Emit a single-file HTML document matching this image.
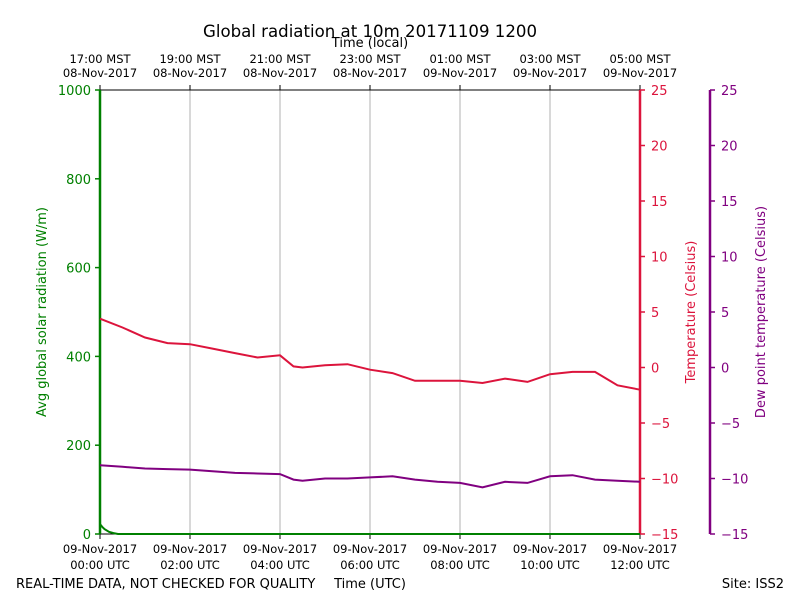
<!DOCTYPE html>
<html><head><meta charset="utf-8"><style>
body{margin:0;background:#fff}svg{display:block;font-family:"DejaVu Sans","Liberation Sans",sans-serif}
</style></head><body>
<svg id="c" width="800" height="600" xmlns="http://www.w3.org/2000/svg">
<text x="370" y="37" font-size="16.6" text-anchor="middle">Global radiation at 10m 20171109 1200</text>
<text x="370" y="47" font-size="13" text-anchor="middle">Time (local)</text>
<text x="16" y="588" font-size="13">REAL-TIME DATA, NOT CHECKED FOR QUALITY</text>
<text x="370" y="588" font-size="13" text-anchor="middle">Time (UTC)</text>
<text x="784" y="588" font-size="13" text-anchor="end">Site: ISS2</text>
<text transform="translate(46,312) rotate(-90)" font-size="13" fill="green" text-anchor="middle">Avg global solar radiation (W/m)</text>
<text transform="translate(695,312) rotate(-90)" font-size="13" fill="crimson" text-anchor="middle">Temperature (Celsius)</text>
<text transform="translate(765,312) rotate(-90)" font-size="13" fill="purple" text-anchor="middle">Dew point temperature (Celsius)</text>
</svg>
<script>
const hours=[0,0.5,1,1.5,2,2.5,3,3.5,4,4.3,4.5,5,5.5,6,6.5,7,7.5,8,8.5,9,9.5,10,10.5,11,11.5,12];
const tempVals=[4.4,3.6,2.7,2.2,2.1,1.7,1.3,0.9,1.1,0.1,0,0.2,0.3,-0.2,-0.5,-1.2,-1.2,-1.2,-1.4,-1.0,-1.3,-0.6,-0.4,-0.4,-1.6,-2.0];
const dewVals=[-8.8,-8.95,-9.1,-9.15,-9.2,-9.35,-9.5,-9.55,-9.6,-10.1,-10.2,-10.0,-10.0,-9.9,-9.8,-10.1,-10.3,-10.4,-10.8,-10.3,-10.4,-9.8,-9.7,-10.1,-10.2,-10.3];
const radHours=[0,0.05,0.1,0.2,0.3,0.4,12];
const radVals=[22,16,11,5,2,0,0];
const leftTicks=[0,200,400,600,800,1000];
const tempTicks=[-15,-10,-5,0,5,10,15,20,25];
const utcLabels=[["09-Nov-2017","00:00 UTC"],["09-Nov-2017","02:00 UTC"],["09-Nov-2017","04:00 UTC"],["09-Nov-2017","06:00 UTC"],["09-Nov-2017","08:00 UTC"],["09-Nov-2017","10:00 UTC"],["09-Nov-2017","12:00 UTC"]];
const localLabels=[["17:00 MST","08-Nov-2017"],["19:00 MST","08-Nov-2017"],["21:00 MST","08-Nov-2017"],["23:00 MST","08-Nov-2017"],["01:00 MST","09-Nov-2017"],["03:00 MST","09-Nov-2017"],["05:00 MST","09-Nov-2017"]];
const X0=100,X1=640,Y0=90,Y1=534;
const x=h=>X0+(X1-X0)*h/12;
const yR=v=>Y1-(Y1-Y0)*v/1000;
const yT=v=>Y1-(Y1-Y0)*(v+15)/40;
const svg=document.getElementById('c');const NS='http://www.w3.org/2000/svg';
function mk(t,a,p){const e=document.createElementNS(NS,t);for(const k in a)e.setAttribute(k,a[k]);(p||svg).appendChild(e);return e;}
function txt(s,a){const e=mk('text',a);e.textContent=s;return e;}
localLabels.forEach((l,i)=>{if(i>0&&i<6){const g=mk('line',{x1:x(i*2),x2:x(i*2),y1:Y0,y2:Y1,stroke:'#b0b0b0','stroke-width':1});

}});
mk('rect',{x:X0,y:Y0,width:X1-X0,height:Y1-Y0,fill:'none',stroke:'#000'});
utcLabels.forEach((l,i)=>{const xx=x(i*2);mk('line',{x1:xx,x2:xx,y1:Y1,y2:Y1+5,stroke:'#000'});mk('line',{x1:xx,x2:xx,y1:Y0,y2:Y0-5,stroke:'#000'});
const t1=txt(l[0],{x:xx,y:553,'font-size':11.5,'text-anchor':'middle'});


txt(l[1],{x:xx,y:569,'font-size':11.5,'text-anchor':'middle'});
const t2=txt(localLabels[i][0],{x:xx,y:63,'font-size':11.5,'text-anchor':'middle'});


txt(localLabels[i][1],{x:xx,y:77,'font-size':11.5,'text-anchor':'middle'});});
mk('line',{x1:X0,x2:X0,y1:Y0,y2:Y1,stroke:'green','stroke-width':2.5});
leftTicks.forEach(v=>{mk('line',{x1:X0-5,x2:X0,y1:yR(v),y2:yR(v),stroke:'green','stroke-width':1.5});const t=txt(v,{x:X0-9,y:yR(v)+5,'font-size':13,fill:'green','text-anchor':'end'});

});
mk('line',{x1:X1,x2:X1,y1:Y0,y2:Y1,stroke:'crimson','stroke-width':2.5});
tempTicks.forEach(v=>{mk('line',{x1:X1,x2:X1+5,y1:yT(v),y2:yT(v),stroke:'crimson','stroke-width':1.5});const t=txt(v<0?'\u2212'+(-v):v,{x:X1+11,y:yT(v)+5,'font-size':13,fill:'crimson'});

});
mk('line',{x1:710,x2:710,y1:Y0,y2:Y1,stroke:'purple','stroke-width':2.5});
tempTicks.forEach(v=>{mk('line',{x1:710,x2:715,y1:yT(v),y2:yT(v),stroke:'purple','stroke-width':1.5});const t=txt(v<0?'\u2212'+(-v):v,{x:721,y:yT(v)+5,'font-size':13,fill:'purple'});

});
function line(xs,ys,fy,col,name){const d=xs.map((h,i)=>(i?'L':'M')+x(h).toFixed(1)+','+fy(ys[i]).toFixed(1)).join('');const p=mk('path',{d:d,fill:'none',stroke:col,'stroke-width':2});

}
line(hours,tempVals,yT,'crimson','temperature-line');
line(hours,dewVals,yT,'purple','dewpoint-line');
line(radHours,radVals,yR,'green','radiation-line');
</script>
</body></html>
